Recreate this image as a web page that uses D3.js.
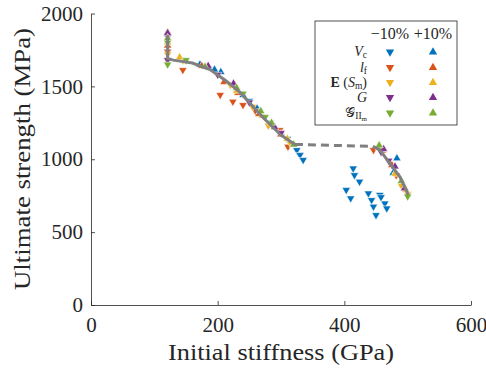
<!DOCTYPE html>
<html>
<head>
<meta charset="utf-8">
<script src="https://cdn.jsdelivr.net/npm/d3@7"></script>
<style>
  body { margin: 0; background: #fff; }
  text { font-family: "Liberation Serif", "Times New Roman", Tinos, serif; fill: #262626; }
</style>
</head>
<body>
<svg id="chart" width="486" height="370"></svg>
<script>
// trend line (GPa, MPa): solid, dashed bridge, solid
const trendA = [[121, 1850], [121, 1690], [130, 1680], [160, 1660], [188, 1615], [214, 1535], [235, 1460], [272, 1285], [300, 1165], [322, 1102]];
const trendGap = [[322, 1102], [445, 1088]];
const trendB = [[445, 1088], [456, 1065], [472, 970], [488, 878], [501, 755]];

// −10% (down) and +10% (up) runs per parameter
const vcMinus = [[250, 1400], [283, 1250], [310, 1140], [325, 1063], [330, 1029], [335, 995],
  [414, 937], [416, 891], [424, 846], [403, 789], [410, 732], [438, 766], [443, 720],
  [456, 755], [464, 697], [446, 675], [450, 617], [467, 663], [458, 740]];
const vcPlus = [[172, 1650], [185, 1632], [195, 1615], [205, 1598], [240, 1440], [262, 1350], [300, 1180],
  [483, 1006], [477, 905], [493, 823]];
const lfMinus = [[121, 1738], [145, 1612], [204, 1441], [224, 1395], [240, 1372], [260, 1330],
  [298, 1200], [311, 1086], [446, 1063], [482, 890]];
const lfPlus = [[121, 1870], [121, 1780], [175, 1640], [210, 1530], [232, 1455], [265, 1310], [300, 1170],
  [460, 1060], [475, 960]];
const eMinus = [[121, 1720], [145, 1680], [220, 1510], [255, 1360], [280, 1230], [315, 1110], [490, 820], [500, 760]];
const ePlus = [[121, 1800], [140, 1700], [230, 1470], [270, 1300], [310, 1140], [455, 1080], [480, 900], [497, 790]];
const gMinus = [[121, 1840], [121, 1680], [200, 1580], [250, 1390], [300, 1180], [458, 1050], [470, 990]];
const gPlus = [[121, 1866], [185, 1640], [225, 1520], [290, 1220], [462, 1070], [480, 950], [495, 800]];
const giiMinus = [[121, 1800], [121, 1650], [150, 1680], [240, 1450], [275, 1290], [500, 745]];
const giiPlus = [[121, 1830], [180, 1635], [230, 1490], [268, 1330], [285, 1250], [320, 1100], [455, 1095], [490, 850]];

const xTicks = [0, 200, 400, 600];
const yTicks = [0, 500, 1000, 1500, 2000];
const colors = ['#0072BD', '#D95319', '#EDB120', '#7E2F8E', '#77AC30'];

const series = [
  { minus: vcMinus, plus: vcPlus },
  { minus: lfMinus, plus: lfPlus },
  { minus: eMinus, plus: ePlus },
  { minus: gMinus, plus: gPlus },
  { minus: giiMinus, plus: giiPlus }
];

const svg = d3.select('#chart');
const xs = d3.scaleLinear().domain([0, 600]).range([91, 471]);
const ys = d3.scaleLinear().domain([0, 2000]).range([305, 13.5]);

const tri = d3.symbol().type(d3.symbolTriangle).size(30)();

function drawMarks(g, pts, color, down) {
  g.selectAll(null).data(pts).enter().append('path')
    .attr('d', tri)
    .attr('transform', d => `translate(${xs(d[0])},${ys(d[1])})` + (down ? ' rotate(180)' : ''))
    .attr('fill', color)
    .attr('stroke', '#fff')
    .attr('stroke-width', 0.6);
}

const marks = svg.append('g');
series.forEach((s, i) => {
  drawMarks(marks, s.minus, colors[i], true);
  drawMarks(marks, s.plus, colors[i], false);
});

const lineY = d3.line().x(d => xs(d[0])).y(d => ys(d[1]));
svg.append('path').attr('d', lineY(trendA)).attr('fill', 'none').attr('stroke', '#808080').attr('stroke-width', 3);
svg.append('path').attr('d', lineY(trendGap)).attr('fill', 'none').attr('stroke', '#808080')
  .attr('stroke-width', 3).attr('stroke-dasharray', '8,5');
svg.append('path').attr('d', lineY(trendB)).attr('fill', 'none').attr('stroke', '#808080').attr('stroke-width', 3);

// axes
const xAxis = svg.append('g').attr('transform', 'translate(0,305)')
  .call(d3.axisBottom(xs).tickValues(xTicks).tickFormat(d3.format('d')).tickSizeInner(-4).tickSizeOuter(0).tickPadding(12));
const yAxis = svg.append('g').attr('transform', 'translate(91,0)')
  .call(d3.axisLeft(ys).tickValues(yTicks).tickFormat(d3.format('d')).tickSizeInner(-4).tickSizeOuter(0).tickPadding(8));
[xAxis, yAxis].forEach(a => {
  a.attr('font-family', null).attr('font-size', null);
  a.selectAll('path, line').attr('stroke', '#262626').attr('stroke-width', 0.8);
  a.selectAll('text').style('font-size', '21px').attr('fill', '#262626');
});

svg.append('text').attr('x', 281).attr('y', 360).attr('text-anchor', 'middle')
  .attr('textLength', 226).attr('lengthAdjust', 'spacingAndGlyphs')
  .style('font-size', '24px').text('Initial stiffness (GPa)');
svg.append('text').attr('transform', 'translate(30,159) rotate(-90)').attr('text-anchor', 'middle')
  .attr('textLength', 262).attr('lengthAdjust', 'spacingAndGlyphs')
  .style('font-size', '24px').text('Ultimate strength (MPa)');

// legend
const lg = svg.append('g');
lg.append('rect').attr('x', 315).attr('y', 21).attr('width', 142).attr('height', 104)
  .attr('fill', '#fff').attr('stroke', '#262626').attr('stroke-width', 0.8);
lg.append('text').attr('x', 390).attr('y', 39).attr('text-anchor', 'middle').style('font-size', '16px').text('\u221210%');
lg.append('text').attr('x', 433).attr('y', 39).attr('text-anchor', 'middle').style('font-size', '16px').text('+10%');

const rowY = [52, 67.5, 82.5, 97.5, 113];
const labels = [
  [['V', 'italic', 0], ['c', 'normal', 1]],
  [['l', 'italic', 0], ['f', 'normal', 1]],
  [['E', 'bold', 0], [' (', 'normal', 0], ['S', 'italic', 0], ['m', 'normal', 1], [')', 'normal', 0]],
  [['G', 'italic', 0]],
  [['\uD835\uDCA2', 'normal', 0], ['II', 'normal', 1], ['m', 'normal', 2]]
];
const subDy = [0, 2, 3.5];
rowY.forEach((y, i) => {
  const t = lg.append('text').attr('x', 367).attr('y', y + 4).attr('text-anchor', 'end').style('font-size', '14px');
  let level = 0;
  labels[i].forEach(([s, st, sub]) => {
    const ts = t.append('tspan').text(s);
    const shift = subDy[sub] - subDy[level];
    if (shift) ts.attr('dy', shift);
    level = sub;
    if (st === 'italic') ts.style('font-style', 'italic');
    if (st === 'bold') ts.style('font-weight', 'bold');
    if (sub === 1) ts.style('font-size', '9.5px');
    if (sub === 2) ts.style('font-size', '7px');
  });
  lg.append('path').attr('d', tri).attr('transform', `translate(390,${y}) rotate(180)`).attr('fill', colors[i]);
  lg.append('path').attr('d', tri).attr('transform', `translate(433,${y})`).attr('fill', colors[i]);
});
</script>
</body>
</html>
